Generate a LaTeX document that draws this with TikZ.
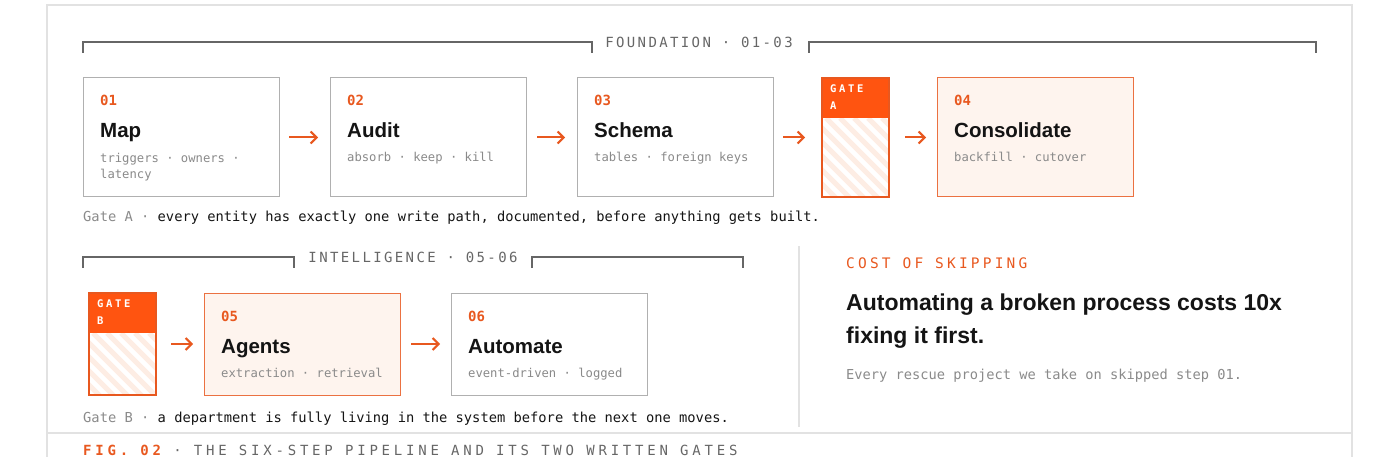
\documentclass[tikz,border=0pt]{standalone}
\usepackage{fontspec}
\setmainfont{Liberation Sans}
\newfontfamily\codefont{DejaVu Sans Mono}
\newfontfamily\trackfont[LetterSpace=17]{DejaVu Sans Mono}
\newfontfamily\tagfont[LetterSpace=25]{DejaVu Sans Mono}
\newfontfamily\widefont[LetterSpace=22]{DejaVu Sans Mono}
\newfontfamily\footfont[LetterSpace=27]{DejaVu Sans Mono}
\usetikzlibrary{positioning,calc,arrows.meta}

\definecolor{rust}{HTML}{E8581F}
\definecolor{gatefill}{HTML}{FF5410}
\definecolor{peach}{HTML}{FEF4EE}
\definecolor{stripe}{HTML}{FDEDE4}
\definecolor{boxline}{HTML}{B0B0B0}
\definecolor{rule}{HTML}{666666}
\definecolor{frame}{HTML}{E2E2E2}
\definecolor{muted}{HTML}{8A8A8A}
\definecolor{ink}{HTML}{141414}

\tikzset{
  stepbox/.style={draw=boxline, line width=1pt, fill=white, minimum width=196pt,
    minimum height=119pt, inner sep=0pt, outer sep=0pt},
  hotbox/.style={stepbox, draw=rust!85, fill=peach},
  gatebox/.style={minimum width=67pt, minimum height=119pt, inner sep=0pt, outer sep=0pt},
  gateline/.style={draw=rust, line width=1.8pt},
  num/.style={anchor=base west, inner sep=0pt, text=rust,
    font=\codefont\bfseries\fontsize{14}{14}\selectfont},
  title/.style={anchor=base west, inner sep=0pt, text=ink,
    font=\bfseries\fontsize{20.5}{20.5}\selectfont},
  sub/.style={anchor=base west, inner sep=0pt, align=left, text=muted,
    font=\codefont\fontsize{12.2}{17}\selectfont},
  gatetag/.style={anchor=north west, inner sep=0pt, align=left, text=white,
    font=\tagfont\bfseries\fontsize{10.5}{17}\selectfont},
  flow/.style={draw=rust, line width=2pt, -{Straight Barb[length=6pt,width=12pt,line width=2pt]}},
  bracket/.style={draw=rule, line width=1.2pt},
  phase/.style={inner sep=0pt, text=rule, font=\trackfont\fontsize{14}{14}\selectfont},
  caption/.style={anchor=base west, inner sep=0pt, text=ink,
    font=\codefont\fontsize{13.75}{14}\selectfont},
  stripes/.style={draw=stripe, line width=5pt}
}

\begin{document}
\begin{tikzpicture}[x=1pt, y=-1pt]
  \useasboundingbox (0,0) rectangle (1400,457);

  % outer frame
  \draw[frame, line width=1.2pt] (47,457) -- (47,5) -- (1352,5) -- (1352,457);
  \draw[frame, line width=1.2pt] (47,433) -- (1352,433);
  \draw[frame, line width=1.2pt] (799,246) -- (799,427);

  % foundation row
  \node[phase] (found) at (699,42) {FOUNDATION · 01-03};
  \draw[bracket] (83,53) |- (592,42) -- (592,53);
  \draw[bracket] (809,53) |- (1316,42) -- (1316,53);

  \node[stepbox] (map) at (181,137.5) {};
  \node[stepbox, right=51pt of map] (audit) {};
  \node[stepbox, right=51pt of audit] (schema) {};
  \node[gatebox, right=49pt of schema] (gateA) {};
  \node[hotbox, right=48pt of gateA] (consol) {};

  \node[num] at ($(map.north west)+(17,28)$) {01};
  \node[title] at ($(map.north west)+(17,60)$) {Map};
  \node[sub] at ($(map.north west)+(17,101)$) {triggers · owners ·\\latency};

  \node[num] at ($(audit.north west)+(17,28)$) {02};
  \node[title] at ($(audit.north west)+(17,60)$) {Audit};
  \node[sub] at ($(audit.north west)+(17,84)$) {absorb · keep · kill};

  \node[num] at ($(schema.north west)+(17,28)$) {03};
  \node[title] at ($(schema.north west)+(17,60)$) {Schema};
  \node[sub] at ($(schema.north west)+(17,84)$) {tables · foreign keys};

  \node[num] at ($(consol.north west)+(17,28)$) {04};
  \node[title] at ($(consol.north west)+(17,60)$) {Consolidate};
  \node[sub] at ($(consol.north west)+(17,84)$) {backfill · cutover};

  % gate A
  \begin{scope}
    \clip ([shift={(1pt,1pt)}]gateA.south west) rectangle ([shift={(-1pt,-40pt)}]gateA.north east);
    \foreach \k in {0,...,11}
      \draw[stripes] ($(gateA.north west)+(-80+14*\k,40)$) -- ++(110,110);
  \end{scope}
  \fill[gatefill] (gateA.north west) rectangle ([yshift=-40pt]gateA.north east);
  \draw[gateline] (gateA.north west) rectangle (gateA.south east);
  \node[gatetag] at ($(gateA.north west)+(8,7)$) {GATE\\A};

  \draw[flow] ([xshift=10pt]map.east) -- ([xshift=-12pt]audit.west);
  \draw[flow] ([xshift=11pt]audit.east) -- ([xshift=-12pt]schema.west);
  \draw[flow] ([xshift=10pt]schema.east) -- ([xshift=-17pt]gateA.west);
  \draw[flow] ([xshift=16pt]gateA.east) -- ([xshift=-11pt]consol.west);

  \node[caption] (capA) at (83,222) {\textcolor{muted}{Gate A ·} every entity has exactly one write path, documented, before anything gets built.};

  % intelligence row
  \node[phase] (intel) at (413,257) {INTELLIGENCE · 05-06};
  \draw[bracket] (83,268) |- (294,257) -- (294,268);
  \draw[bracket] (532,268) |- (743,257) -- (743,268);

  \node[gatebox, minimum height=102pt] (gateB) at (122.5,344) {};
  \node[hotbox, minimum height=102pt, right=48pt of gateB] (agents) {};
  \node[stepbox, minimum height=102pt, right=51pt of agents] (automate) {};

  \node[num] at ($(agents.north west)+(17,28)$) {05};
  \node[title] at ($(agents.north west)+(17,60)$) {Agents};
  \node[sub] at ($(agents.north west)+(17,84)$) {extraction · retrieval};

  \node[num] at ($(automate.north west)+(17,28)$) {06};
  \node[title] at ($(automate.north west)+(17,60)$) {Automate};
  \node[sub] at ($(automate.north west)+(17,84)$) {event-driven · logged};

  % gate B
  \begin{scope}
    \clip ([shift={(1pt,1pt)}]gateB.south west) rectangle ([shift={(-1pt,-40pt)}]gateB.north east);
    \foreach \k in {0,...,11}
      \draw[stripes] ($(gateB.north west)+(-80+14*\k,40)$) -- ++(110,110);
  \end{scope}
  \fill[gatefill] (gateB.north west) rectangle ([yshift=-40pt]gateB.north east);
  \draw[gateline] (gateB.north west) rectangle (gateB.south east);
  \node[gatetag] at ($(gateB.north west)+(8,7)$) {GATE\\B};

  \draw[flow] ([xshift=15pt]gateB.east) -- ([xshift=-11pt]agents.west);
  \draw[flow] ([xshift=11pt]agents.east) -- ([xshift=-11pt]automate.west);

  \node[caption] (capB) at (83,422) {\textcolor{muted}{Gate B ·} a department is fully living in the system before the next one moves.};

  % cost panel
  \node[anchor=base west, inner sep=0pt, text=rust, font=\widefont\fontsize{14.5}{14.5}\selectfont]
    (cost) at (846,268) {COST OF SKIPPING};
  \node[anchor=base west, inner sep=0pt, align=left, text=ink, font=\bfseries\fontsize{23}{33}\selectfont]
    (claim) at (846,343) {Automating a broken process costs 10x\\fixing it first.};
  \node[anchor=base west, inner sep=0pt, text=muted, font=\codefont\fontsize{13.7}{14}\selectfont]
    (skip) at (846,379) {Every rescue project we take on skipped step 01.};

  % footer
  \node[anchor=base west, inner sep=0pt, text=rule, font=\footfont\fontsize{14}{14}\selectfont]
    (fig) at (83,455) {\textcolor{rust}{\bfseries FIG. 02} · THE SIX-STEP PIPELINE AND ITS TWO WRITTEN GATES};
\end{tikzpicture}
\end{document}
